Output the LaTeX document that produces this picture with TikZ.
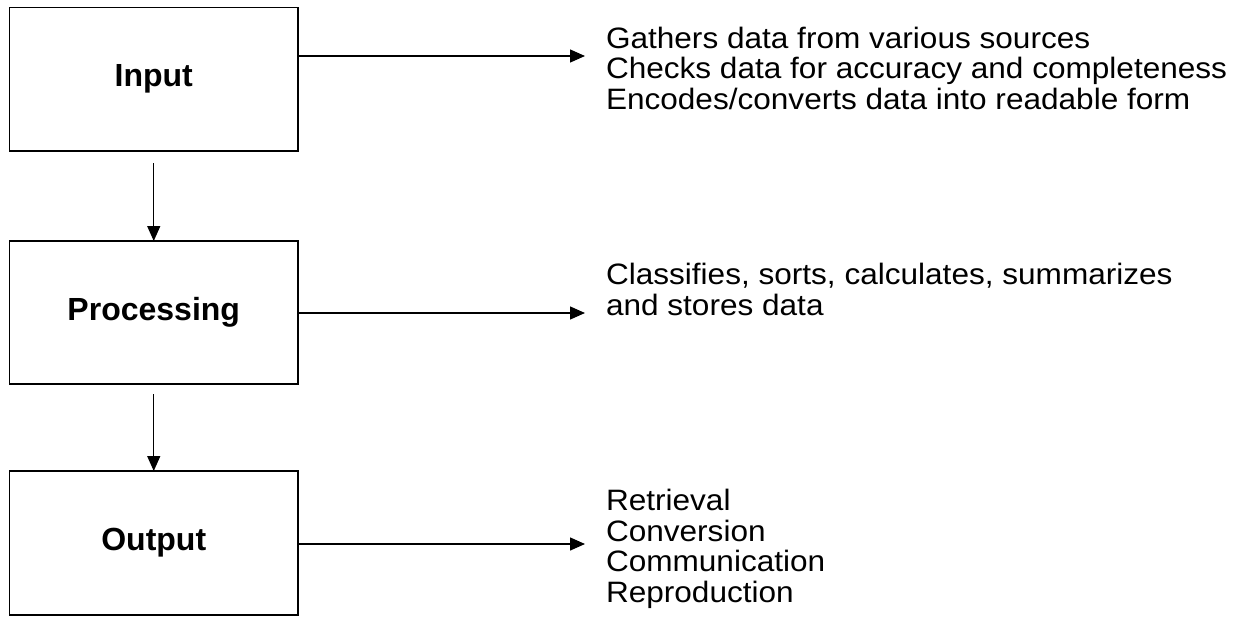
\documentclass[tikz,border=0pt]{standalone}
\usepackage{fontspec}
\setmainfont{Liberation Sans}
\newfontfamily\rfont[FakeStretch=1.07]{Liberation Sans}
\usetikzlibrary{arrows.meta,calc}
\tikzset{
  stage/.style={draw, line width=1.8pt, minimum width=288.5pt, outer sep=0pt, inner sep=0pt,
    font=\fontsize{32}{36}\selectfont\bfseries},
  desc/.style={anchor=base west, inner sep=0pt, outer sep=0pt, align=left,
    font=\rfont\fontsize{29.5}{30.5}\selectfont},
  arr/.style={line width=1.4pt, -{Triangle[length=15pt,width=13pt]}}
}
\begin{document}
\begin{tikzpicture}[x=1pt,y=-1pt]
\useasboundingbox (0,0) rectangle (1247,626);
\node[stage, minimum height=143.5pt] (in) at (153.75,79.25) {Input};
\node[stage, minimum height=143pt] (proc) at (153.75,312.5) {Processing};
\node[stage, minimum height=144pt] (out) at (153.75,543) {Output};
\node[desc] (intxt) at (606,109) {Gathers data from various sources\\Checks data for accuracy and completeness\\Encodes/converts data into readable form};
\node[desc] (proctxt) at (606,315) {Classifies, sorts, calculates, summarizes\\and stores data};
\node[desc] (outtxt) at (606,602) {Retrieval\\Conversion\\Communication\\Reproduction};
\coordinate (e1) at (585,56);
\coordinate (e2) at (585,313);
\coordinate (e3) at (585,544);
\draw[arr] (in.east |- e1) -- (e1);
\draw[arr] (proc.east |- e2) -- (e2);
\draw[arr] (out.east |- e3) -- (e3);
\draw[arr] ($(in.south)+(0,12)$) -- (proc.north);
\draw[arr] ($(proc.south)+(0,10)$) -- (out.north);
\end{tikzpicture}
\end{document}
